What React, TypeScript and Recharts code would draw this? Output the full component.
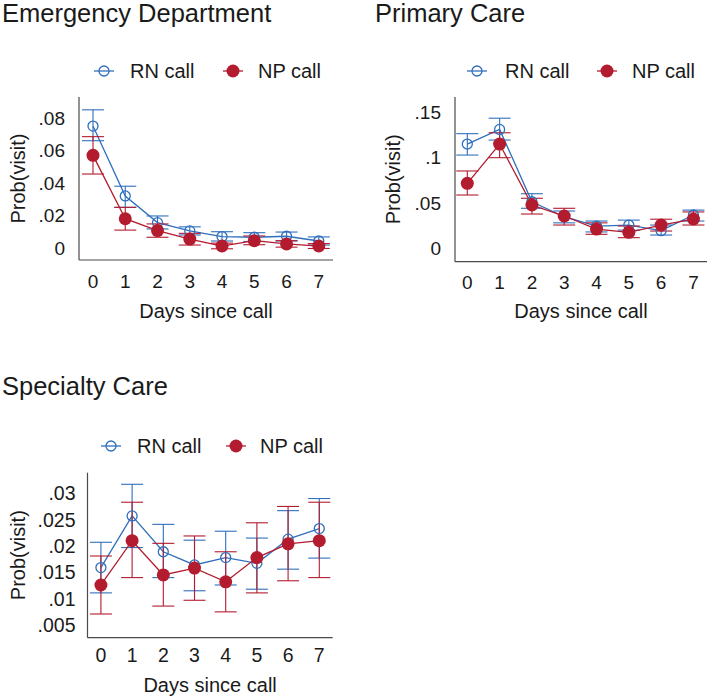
import React from "react";
import { LineChart, Line, XAxis, YAxis, ErrorBar } from "recharts";

// days after the call
const days = [0, 1, 2, 3, 4, 5, 6, 7];

// Emergency Department
const edRn = [0.075, 0.032, 0.0156, 0.0105, 0.007, 0.0066, 0.0072, 0.0043];
const edRnLo = [0.066, 0.025, 0.0117, 0.008, 0.0043, 0.004, 0.0043, 0.0018];
const edRnHi = [0.085, 0.038, 0.0197, 0.013, 0.01, 0.0094, 0.0098, 0.0068];
const edNp = [0.057, 0.018, 0.0107, 0.0055, 0.0012, 0.0045, 0.0025, 0.0012];
const edNpLo = [0.0455, 0.011, 0.0066, 0.0018, -0.0005, 0.002, 0.0005, -0.0003];
const edNpHi = [0.0685, 0.025, 0.0148, 0.009, 0.003, 0.0074, 0.0045, 0.0027];
const edTicks = [0, 0.02, 0.04, 0.06, 0.08];

// Primary Care
const pcRn = [0.1146, 0.1307, 0.0512, 0.0347, 0.0245, 0.0256, 0.0194, 0.0366];
const pcRnLo = [0.1025, 0.119, 0.044, 0.028, 0.018, 0.02, 0.0146, 0.03];
const pcRnHi = [0.126, 0.143, 0.06, 0.041, 0.03, 0.031, 0.0256, 0.042];
const pcNp = [0.0714, 0.1146, 0.0476, 0.0355, 0.0212, 0.0176, 0.0256, 0.0322];
const pcNpLo = [0.0586, 0.0996, 0.0377, 0.0256, 0.0154, 0.0117, 0.019, 0.0256];
const pcNpHi = [0.085, 0.127, 0.055, 0.044, 0.028, 0.0245, 0.032, 0.04];
const pcTicks = [0, 0.05, 0.1, 0.15];

// Specialty Care
const scRn = [0.0159, 0.0257, 0.0189, 0.0164, 0.0178, 0.0167, 0.0213, 0.0233];
const scRnLo = [0.0111, 0.0197, 0.014, 0.0115, 0.0126, 0.0118, 0.0156, 0.0177];
const scRnHi = [0.0207, 0.0317, 0.0241, 0.0211, 0.0228, 0.0215, 0.0267, 0.029];
const scNp = [0.0126, 0.021, 0.0145, 0.0158, 0.0132, 0.0178, 0.0204, 0.021];
const scNpLo = [0.0071, 0.014, 0.0086, 0.0097, 0.0075, 0.0111, 0.0134, 0.014];
const scNpHi = [0.0181, 0.0283, 0.0205, 0.0219, 0.0189, 0.0244, 0.0275, 0.0283];
const scTicks = [0.005, 0.01, 0.015, 0.02, 0.025, 0.03];

const BLUE = "#2f6fbd";
const RED = "#b31b2f";
const AXIS = "#4a4a4a";
const INK = "#1a1a1a";
const FONT = '"Liberation Sans", Arial, sans-serif';

function buildRows(rn: number[], rnLo: number[], rnHi: number[], np: number[], npLo: number[], npHi: number[]) {
  return days.map((d, i) => ({
    day: d,
    rn: rn[i],
    rnErr: [rn[i] - rnLo[i], rnHi[i] - rn[i]],
    np: np[i],
    npErr: [np[i] - npLo[i], npHi[i] - np[i]],
  }));
}

const fmt = (v: number) => (v === 0 ? "0" : String(v).replace(/^0\./, "."));

function Panel(props: any) {
  const { x, y, w, h, margin, yWidth, xHeight, xDomain, yDomain, yTicks, tickFs, xTickGap, yTickGap, rows, yTitleX, xTitleOffset } = props;
  return (
    <div style={{ position: "absolute", left: x, top: y }}>
      <LineChart width={w} height={h} data={rows} margin={margin}>
        <XAxis
          dataKey="day"
          type="number"
          domain={xDomain}
          ticks={days}
          interval={0}
          allowDataOverflow
          height={xHeight}
          tickLine={false}
          tickSize={0}
          tickMargin={xTickGap}
          stroke={AXIS}
          strokeWidth={1.2}
          tick={{ fill: INK, fontSize: tickFs, fontFamily: FONT }}
          label={{ value: "Days since call", position: "insideBottom", offset: xTitleOffset, fill: INK, fontSize: 20, fontFamily: FONT }}
        />
        <YAxis
          type="number"
          domain={yDomain}
          ticks={yTicks}
          interval={0}
          allowDataOverflow
          width={yWidth}
          tickLine={false}
          tickSize={0}
          tickMargin={yTickGap}
          tickFormatter={fmt}
          stroke={AXIS}
          strokeWidth={1.2}
          tick={{ fill: INK, fontSize: tickFs, fontFamily: FONT }}
          label={{ value: "Prob(visit)", angle: -90, position: "insideLeft", offset: yTitleX, fill: INK, fontSize: 20, fontFamily: FONT, style: { textAnchor: "middle" } }}
        />
        <Line
          dataKey="rn"
          stroke={BLUE}
          strokeWidth={1.3}
          dot={{ r: 5, fill: "none", stroke: BLUE, strokeWidth: 1.3 }}
          activeDot={false}
          isAnimationActive={false}
        >
          <ErrorBar dataKey="rnErr" direction="y" width={11} stroke={BLUE} strokeWidth={1.1} isAnimationActive={false} />
        </Line>
        <Line
          dataKey="np"
          stroke={RED}
          strokeWidth={1.3}
          dot={{ r: 6.5, fill: RED, stroke: RED, strokeWidth: 0 }}
          activeDot={false}
          isAnimationActive={false}
        >
          <ErrorBar dataKey="npErr" direction="y" width={11} stroke={RED} strokeWidth={1.1} isAnimationActive={false} />
        </Line>
      </LineChart>
    </div>
  );
}

function LegendRow({ cy, rnIcon, rnText, npIcon, npText }: any) {
  return (
    <g>
      <line x1={rnIcon - 10} x2={rnIcon + 10} y1={cy} y2={cy} stroke={BLUE} strokeWidth={1.3} />
      <circle cx={rnIcon} cy={cy} r={5} fill="none" stroke={BLUE} strokeWidth={1.3} />
      <text x={rnText} y={cy + 7} fontSize={20} fill={INK} fontFamily={FONT}>RN call</text>
      <line x1={npIcon - 10} x2={npIcon + 10} y1={cy} y2={cy} stroke={RED} strokeWidth={1.3} />
      <circle cx={npIcon} cy={cy} r={6.5} fill={RED} />
      <text x={npText} y={cy + 7} fontSize={20} fill={INK} fontFamily={FONT}>NP call</text>
    </g>
  );
}

export default function App() {
  const ed = buildRows(edRn, edRnLo, edRnHi, edNp, edNpLo, edNpHi);
  const pc = buildRows(pcRn, pcRnLo, pcRnHi, pcNp, pcNpLo, pcNpHi);
  const sc = buildRows(scRn, scRnLo, scRnHi, scNp, scNpLo, scNpHi);

  return (
    <div style={{ position: "absolute", left: 0, top: 0, width: 709, height: 698, background: "#fff", overflow: "hidden", fontFamily: FONT }}>
      <Panel
        x={0} y={90} w={345} h={240}
        margin={{ top: 7, right: 12, left: 0, bottom: 0 }}
        yWidth={79} xHeight={70}
        xDomain={[-0.434, 7.44]} yDomain={[-0.0074, 0.0929]} yTicks={edTicks}
        tickFs={19} xTickGap={15} yTickGap={14}
        rows={ed} yTitleX={18} xTitleOffset={12}
      />
      <Panel
        x={360} y={90} w={349} h={240}
        margin={{ top: 7, right: 2, left: 0, bottom: 0 }}
        yWidth={95} xHeight={68.3}
        xDomain={[-0.381, 7.42]} yDomain={[-0.0147, 0.1663]} yTicks={pcTicks}
        tickFs={19} xTickGap={14} yTickGap={14}
        rows={pc} yTitleX={33} xTitleOffset={12}
      />
      <Panel
        x={0} y={460} w={345} h={238}
        margin={{ top: 12.7, right: 12.3, left: 0, bottom: 0 }}
        yWidth={87.5} xHeight={60.3}
        xDomain={[-0.43, 7.43]} yDomain={[0.0026, 0.0339]} yTicks={scTicks}
        tickFs={19.5} xTickGap={10} yTickGap={12}
        rows={sc} yTitleX={18} xTitleOffset={6}
      />
      <svg width={709} height={698} style={{ position: "absolute", left: 0, top: 0, pointerEvents: "none" }}>
        <text x={2} y={22} fontSize={25.5} fill={INK} fontFamily={FONT}>Emergency Department</text>
        <text x={375} y={22} fontSize={25.5} fill={INK} fontFamily={FONT}>Primary Care</text>
        <text x={2} y={395} fontSize={25.5} fill={INK} fontFamily={FONT}>Specialty Care</text>
        <LegendRow cy={71} rnIcon={104} rnText={130} npIcon={233} npText={258} />
        <LegendRow cy={71} rnIcon={477} rnText={505} npIcon={607} npText={632} />
        <LegendRow cy={446} rnIcon={111} rnText={137} npIcon={236} npText={260} />
      </svg>
    </div>
  );
}
